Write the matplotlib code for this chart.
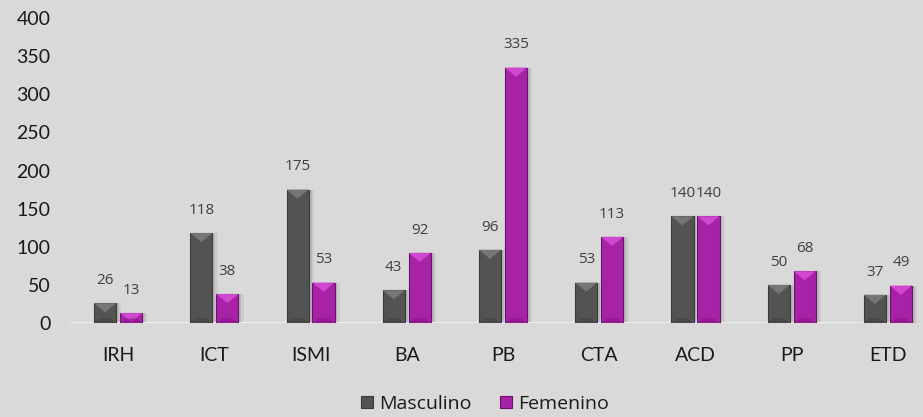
import matplotlib.pyplot as plt
import numpy as np
from matplotlib.patches import Polygon

categories = ["IRH", "ICT", "ISMI", "BA", "PB", "CTA", "ACD", "PP", "ETD"]
masculino = [26, 118, 175, 43, 96, 53, 140, 50, 37]
femenino = [13, 38, 53, 92, 335, 113, 140, 68, 49]

BG = "#D9D9D9"
MASC = "#535353"
FEM = "#A722A7"

plt.rcParams["font.family"] = ["Lato", "DejaVu Sans"]

fig = plt.figure(figsize=(9.23, 4.17), dpi=100, facecolor=BG)
# axes spans past the right edge like the original
ax = fig.add_axes([70 / 923, (417 - 323) / 417, 866 / 923, 305 / 417])
ax.set_facecolor(BG)

x = np.arange(len(categories))
w = 0.23
off = 0.135


def bevel(ax, bars, light, dark):
    # fake the embossed bar look: soft shadow, lighter top wedge, darker foot
    for b in bars:
        x0 = b.get_x()
        bw, bh = b.get_width(), b.get_height()
        for k, a in ((0.03, 0.10), (0.055, 0.06)):
            ax.bar(x0 + bw / 2 + k, bh, bw, color="#000000", alpha=a,
                   zorder=1, linewidth=0)
        th = min(12.0, bh)
        ax.add_patch(Polygon([[x0, bh], [x0 + bw, bh], [x0 + bw / 2, bh - th]],
                             closed=True, color=light, zorder=3, linewidth=0))
        fh = min(6.0, bh / 2)
        ax.add_patch(Polygon([[x0, 0], [x0 + bw, 0], [x0 + bw * 0.75, fh], [x0 + bw * 0.25, fh]],
                             closed=True, color=dark, zorder=3, linewidth=0, alpha=0.5))


bm = ax.bar(x - off, masculino, w, color=MASC, edgecolor="#3A3A3A", linewidth=0.8,
            zorder=2, label="Masculino")
bf = ax.bar(x + off, femenino, w, color=FEM, edgecolor="#6E106E", linewidth=0.8,
            zorder=2, label="Femenino")
bevel(ax, bm, "#767676", "#3E3E3E")
bevel(ax, bf, "#CF48CF", "#7E127E")

for bars, vals in ((bm, masculino), (bf, femenino)):
    for b, v in zip(bars, vals):
        ax.annotate(str(v), (b.get_x() + b.get_width() / 2, v), xytext=(0, 11),
                    textcoords="offset points", ha="center", va="bottom",
                    fontsize=11, color="#404040", family=["Open Sans", "DejaVu Sans"])

ax.axhline(0, color="#EEEEEE", linewidth=1.5, zorder=1, xmin=0, xmax=0.97)

ax.set_xlim(-0.5, len(categories) - 0.5)
ax.set_ylim(0, 400)
ax.set_yticks(np.arange(0, 401, 50))
ax.set_xticks(x)
ax.set_xticklabels(categories)
ax.tick_params(axis="both", length=0, labelsize=14, labelcolor="#1A1A1A")
ax.tick_params(axis="y", pad=14)
ax.tick_params(axis="x", pad=17)
for s in ax.spines.values():
    s.set_visible(False)

fig.legend(handles=[bm, bf], labels=["Masculino", "Femenino"], loc="center",
           bbox_to_anchor=(485 / 923, 1 - 404 / 417), ncol=2, frameon=False,
           prop={"family": ["Open Sans", "DejaVu Sans"], "size": 14},
           handlelength=0.6, handleheight=0.6, handletextpad=0.3,
           columnspacing=1.5, labelcolor="#1A1A1A", borderpad=0.1)

fig.savefig("out.png", dpi=100, facecolor=BG)
